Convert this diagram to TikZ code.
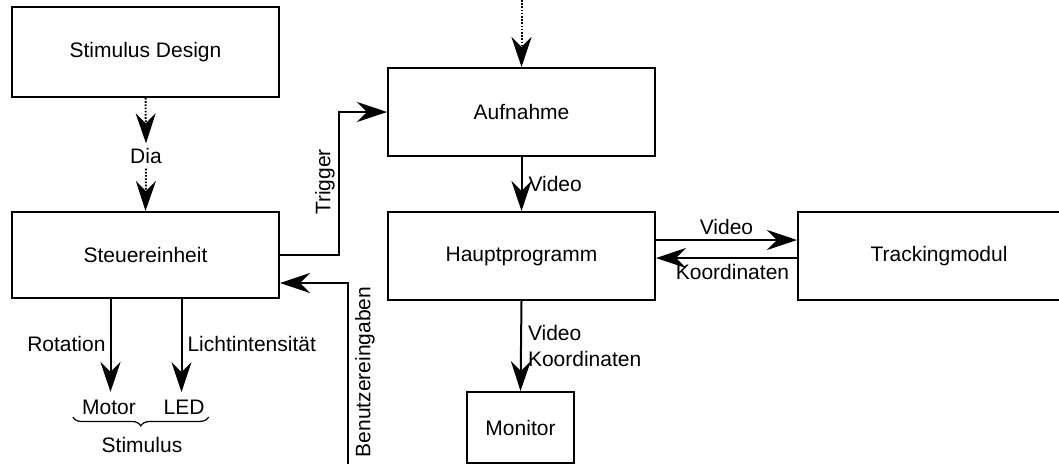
\documentclass[tikz,border=0pt]{standalone}
\usepackage{fontspec}
\setmainfont{Liberation Sans}
\usetikzlibrary{arrows.meta,calc,decorations.pathreplacing}

\tikzset{
	block/.style={draw, line width=2pt, minimum width=267, minimum height=88, inner sep=0pt},
	flow/.style={->, line width=2pt},
	dotflow/.style={->, line width=2pt, dash pattern=on 1.6pt off 1.6pt},
	txt/.style={inner sep=0pt}
}

\begin{document}
\begin{tikzpicture}[x=1pt, y=-1pt, font=\fontsize{21}{25}\selectfont,
	>={Stealth[length=30pt, width=20pt, inset=10pt]}]
	\useasboundingbox (0,0) rectangle (1059,464);

	% blocks
	\node[block, minimum height=90] (design) at (145.5,52) {Stimulus Design};
	\node[block, minimum height=86] (steuer) at (145.5,255) {Steuereinheit};
	\node[block] (auf) at (521.5,112) {Aufnahme};
	\node[block] (haupt) at (521.5,256) {Hauptprogramm};
	\node[block, minimum width=282] (track) at (939,256) {Trackingmodul};
	\node[block, minimum width=107, minimum height=71] (mon) at (520.5,427.5) {Monitor};

	% free texts
	\node[txt, minimum height=25] (dia) at (146,156) {Dia};
	\node[txt] (motor) at (109,407.5) {Motor};
	\node[txt] (led) at (184,407.5) {LED};
	\node[txt] (stim) at (142,445) {Stimulus};
	\coordinate (ext) at (521.5,0);
	\coordinate (user) at (348,464);
	\coordinate (rotout) at ($(steuer.south)+(-35,0)$);
	\coordinate (lichtout) at ($(steuer.south)+(36,0)$);

	% Stimulus Design -> Steuereinheit
	\draw[dotflow] (design.south) -- (dia.north);
	\draw[dotflow] (dia.south) -- (steuer.north);

	% Steuereinheit -> Aufnahme
	\draw[flow] (steuer.east) -| ($(auf.west)+(-48,0)$) -- (auf.west);
	\node[rotate=90] (trig) at (325,182) {Trigger};

	% Benutzereingaben
	\draw[flow] (user) |- ($(steuer.east)+(0,28)$);
	\node[rotate=90] (benutz) at (365,372) {Benutzereingaben};

	% outputs of Steuereinheit
	\draw[flow, shorten >=8pt] (rotout) -- (rotout |- motor.north)
		node[pos=0.45, left, inner sep=4pt] (rot) {Rotation};
	\draw[flow, shorten >=8pt] (lichtout) -- (lichtout |- led.north)
		node[pos=0.45, right, inner sep=5pt] (licht) {Lichtintensität};
	\draw[decorate, decoration={brace, mirror, amplitude=9pt}, line width=1.2pt]
		($(motor.south west)+(-9,2)$) -- ($(led.south east)+(4,2)$);

	% Aufnahme -> Hauptprogramm
	\draw[dotflow] (ext) -- (auf.north);
	\draw[flow] (auf.south) -- (haupt.north) node[midway, right, inner sep=6pt] (vid1) {Video};

	% Hauptprogramm <-> Trackingmodul
	\draw[flow] ($(haupt.east)+(0,-16)$) -- ($(track.west)+(0,-16)$)
		node[midway, above, inner sep=4pt] (vid2) {Video};
	\draw[flow] ($(track.west)+(0,2)$) -- ($(haupt.east)+(0,2)$)
		node[midway, below, xshift=6pt, inner sep=5pt] (koord) {Koordinaten};

	% Hauptprogramm -> Monitor
	\draw[flow] (haupt.south) -- (mon.north)
		node[midway, right, align=left, inner sep=6pt, font=\fontsize{21}{26}\selectfont] (vidkoord) {Video\\Koordinaten};
\end{tikzpicture}
\end{document}
